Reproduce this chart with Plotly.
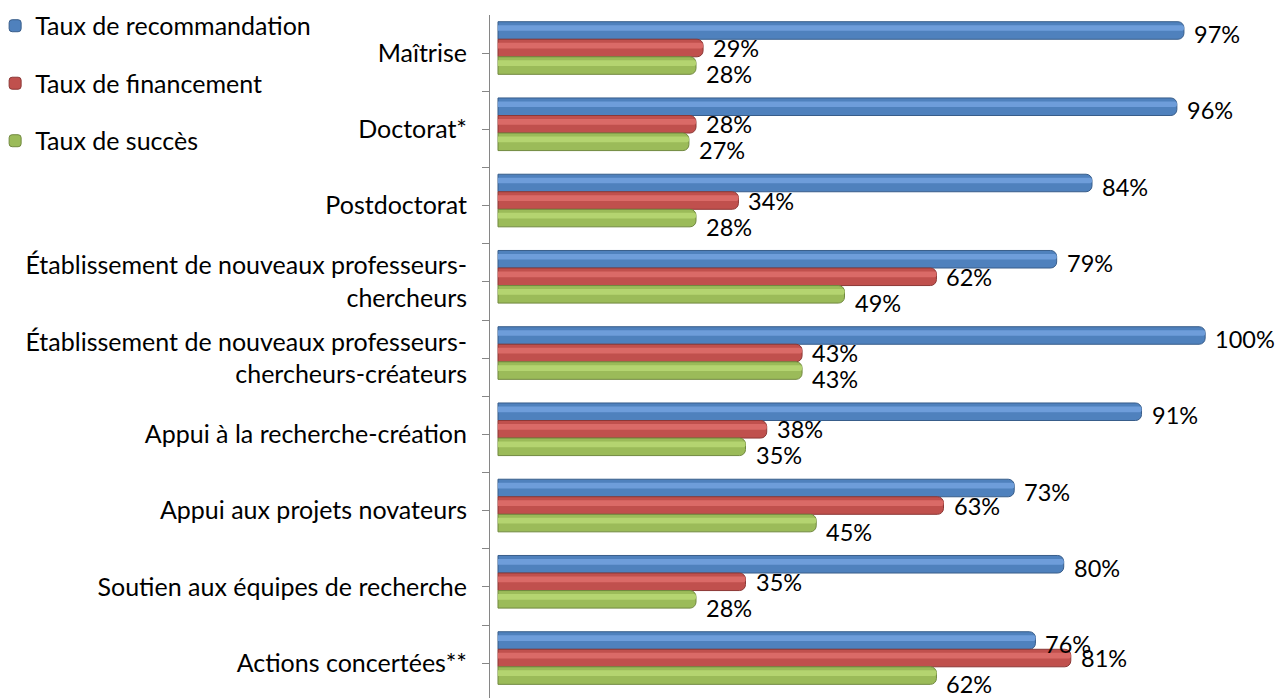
import plotly.graph_objects as go

# category labels (top to bottom) and the three rates, in %
categories = [
    "Maîtrise",
    "Doctorat*",
    "Postdoctorat",
    "Établissement de nouveaux professeurs-<br>chercheurs",
    "Établissement de nouveaux professeurs-<br>chercheurs-créateurs",
    "Appui à la recherche-création",
    "Appui aux projets novateurs",
    "Soutien aux équipes de recherche",
    "Actions concertées**",
]
recommandation = [97, 96, 84, 79, 100, 91, 73, 80, 76]
financement = [29, 28, 34, 62, 43, 38, 63, 35, 81]
succes = [28, 27, 28, 49, 43, 35, 45, 28, 62]

FONT = "Lato"
FS = 25
AXIS_GREY = "#868686"

# name, values, base colour, highlight, rim, bar offset, label shift (px)
series = [
    ("Taux de recommandation", recommandation, "#4F81BD", "#6E9DDA", "#385D8A", -0.412, 19),
    ("Taux de financement", financement, "#C0504D", "#DA6A67", "#8C3836", -0.182, 5),
    ("Taux de succès", succes, "#9BBB59", "#B4D470", "#71893F", 0.048, -21),
]
BAR_W = 0.23

pos = list(range(len(categories)))

fig = go.Figure()
annotations = []
for name, vals, col, light, dark, off, shift in series:
    fig.add_trace(go.Bar(
        x=vals, y=pos, orientation="h", name=name,
        offset=off, width=BAR_W, legendgroup=name,
        marker=dict(color=col, line=dict(color=dark, width=1), cornerradius=6),
        hoverinfo="x+name",
    ))
    # lighter band to give the cylinder look
    fig.add_trace(go.Bar(
        x=vals, y=pos, orientation="h", name=name,
        offset=off + 0.045, width=0.075, legendgroup=name, showlegend=False,
        marker=dict(color=light, line=dict(width=0), cornerradius=3),
        hoverinfo="skip",
    ))
    for i, v in zip(pos, vals):
        annotations.append(dict(
            x=v, y=i, xref="x", yref="y", text=f"{v}%",
            showarrow=False, xanchor="left", yanchor="middle",
            xshift=8, yshift=shift,
            font=dict(family=FONT, size=23.5, color="black"),
        ))

fig.update_layout(
    width=1278, height=698,
    margin=dict(l=490, r=0, t=15, b=0, autoexpand=False),
    paper_bgcolor="white", plot_bgcolor="white",
    barmode="overlay",
    font=dict(family=FONT, size=FS, color="black"),
    annotations=annotations,
    showlegend=True,
    legend=dict(
        xref="paper", yref="paper", x=-0.628, y=1.0176,
        xanchor="left", yanchor="top",
        font=dict(family=FONT, size=FS, color="black"),
        tracegroupgap=22, bgcolor="rgba(0,0,0,0)", itemwidth=30,
    ),
    xaxis=dict(range=[-1.13, 110.3], visible=False),
    yaxis=dict(
        range=[8.457, -0.5],
        tickvals=pos, ticktext=categories,
        ticks="outside", ticklen=7, tickcolor=AXIS_GREY,
        showline=True, linecolor=AXIS_GREY, linewidth=1,
        showgrid=False, zeroline=False, automargin=False,
        ticklabelstandoff=10,
        minor=dict(tickvals=[i + 0.5 for i in pos], ticks="outside",
                   ticklen=7, tickcolor=AXIS_GREY),
    ),
)

# drop the browser's default body margin so the figure fills the window
fig.write_html("out.html", config={"displayModeBar": False},
               post_script="document.body.style.margin = '0';")
